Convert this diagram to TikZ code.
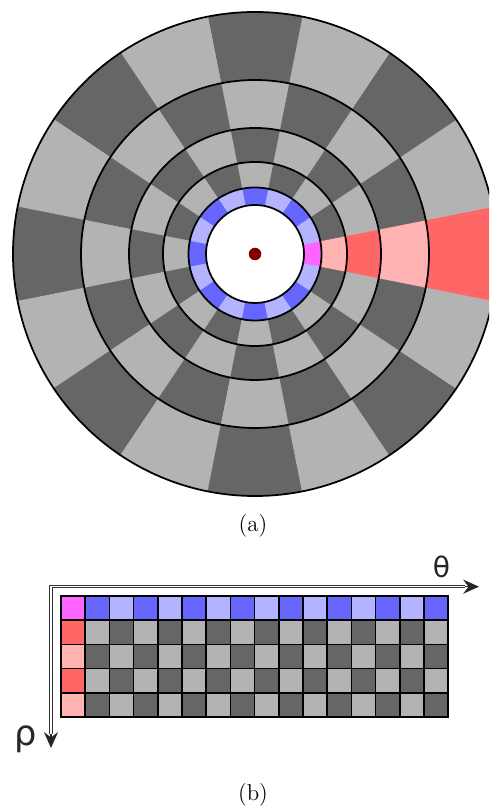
\documentclass[tikz,border=0pt]{standalone}
\usepackage{fontspec}
\newfontfamily\greekfont{DejaVu Sans}
\usetikzlibrary{arrows.meta}
\definecolor{cgray0}{HTML}{666666}
\definecolor{cgray1}{HTML}{B3B3B3}
\definecolor{cblue0}{HTML}{6666FF}
\definecolor{cblue1}{HTML}{B3B3FF}
\definecolor{cred0}{HTML}{FF6666}
\definecolor{cred1}{HTML}{FFB3B3}
\definecolor{cmag0}{HTML}{FF66FF}
\definecolor{cmag1}{HTML}{FF66FF}
\definecolor{dotred}{HTML}{800000}
\tikzset{
	ringline/.style={
			draw=black,
			line width=1pt
		},
	sectorpiece/.style={
			line width=0.2pt
		},
	cellbox/.style={
			draw=black,
			line width=1pt
		},
	axisline/.style={
			draw=black!80,
			line width=0.55pt,
			double=white,
			double distance=0.7pt,
			line join=miter
		},
	axistip/.style={
			draw=black!85,
			line width=0.9pt,
			arrows={-Stealth[length=9pt,width=8pt,inset=3pt]}
		},
	axislabel/.style={
			inner sep=0pt,
			text=black!85
		},
	captionnode/.style={
			inner sep=0pt,
			font=\fontsize{13}{15}\selectfont
		}
}

\begin{document}
\begin{tikzpicture}
\useasboundingbox (0,0) rectangle (9.78,16.14);
\clip (0,0) rectangle (9.78,16.14);

% polar grid (a)
\begin{scope}[shift={(5.10,11.06)}]
\foreach \ring/\ra/\rb in {0/0.98/1.33, 1/1.33/1.84, 2/1.84/2.52, 3/2.52/3.48, 4/3.48/4.84}{
	\foreach \sect in {0,...,15}{
		\pgfmathtruncatemacro{\tonelvl}{mod(\ring+\sect,2)}
		\pgfmathsetmacro{\angA}{\sect*22.5-11.25}
		\pgfmathsetmacro{\angB}{\sect*22.5+11.25}
		\def\tonefam{cgray}
		\ifnum\sect=0 \def\tonefam{cred}\fi
		\ifnum\ring=0 \def\tonefam{cblue}\ifnum\sect=0 \def\tonefam{cmag}\fi\fi
		\filldraw[sectorpiece, fill=\tonefam\tonelvl, draw=\tonefam\tonelvl] (\angA:\ra) arc[start angle=\angA, end angle=\angB, radius=\ra] -- (\angB:\rb) arc[start angle=\angB, end angle=\angA, radius=\rb] -- cycle;
	}
}
\foreach \rr in {0.98,1.33,1.84,2.52,3.48,4.84}
	\draw[ringline] (0,0) circle[radius=\rr];
\fill[dotred] (0,0) circle[radius=0.125];
\end{scope}

% unrolled grid (b)
\foreach \rowi in {0,...,4}{
	\foreach \colj in {0,...,15}{
		\pgfmathtruncatemacro{\tonelvl}{mod(\rowi+\colj+1,2)}
		\def\tonefam{cgray}
		\ifnum\colj=0 \def\tonefam{cred}\fi
		\ifnum\rowi=0 \def\tonefam{cblue}\ifnum\colj=0 \def\tonefam{cmag}\fi\fi
		\filldraw[cellbox, fill=\tonefam\tonelvl] (1.22+\colj*0.484, 4.22-\rowi*0.484) rectangle ++(0.484,-0.484);
	}
}

\coordinate (axo) at (1.02,4.406);
\coordinate (thetaend) at (9.30,4.406);
\coordinate (thetatip) at (9.58,4.406);
\coordinate (rhoend) at (1.02,1.46);
\coordinate (rhotip) at (1.02,1.18);
\draw[axisline] (thetaend) -- (axo) -- (rhoend);
\draw[axistip] (thetaend) -- (thetatip);
\draw[axistip] (rhoend) -- (rhotip);

\node[axislabel, font=\greekfont\fontsize{16}{16}\selectfont] (thetalbl) at (8.83,4.81) {θ};
\node[axislabel, font=\greekfont\fontsize{20}{20}\selectfont] (rholbl) at (0.52,1.36) {ρ};

\node[captionnode] (capa) at (5.06,5.62) {(a)};
\node[captionnode] (capb) at (5.06,0.24) {(b)};

\end{tikzpicture}
\end{document}
